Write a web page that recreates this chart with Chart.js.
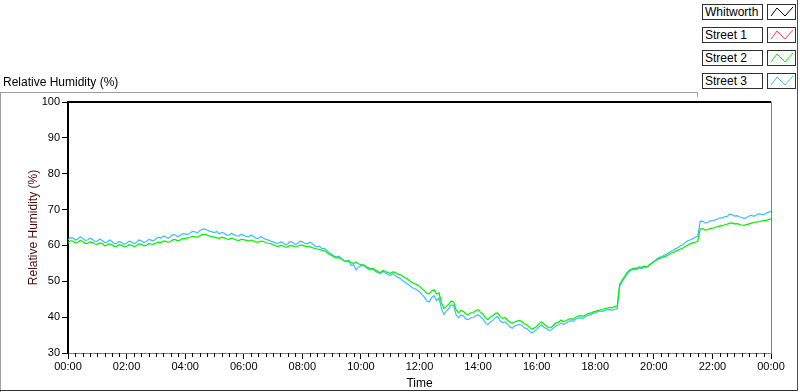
<!DOCTYPE html>
<html>
<head>
<meta charset="utf-8">
<script src="https://cdn.jsdelivr.net/npm/chart.js@4.4.1/dist/chart.umd.min.js"></script>
<style>
    body { margin: 0; background: #fff; font-family: "Liberation Sans", Arial, sans-serif; }
    #wrap { position: relative; width: 800px; height: 392px; overflow: hidden; background: #fff; }
    #wrap canvas { position: absolute; left: 0; top: 0; }
    .ln { position: absolute; }
    .graph-title { position: absolute; left: 3px; top: 75px; font-size: 12px; color: #000; }
    .leg-label { position: absolute; left: 702px; width: 61px; height: 16px; box-sizing: border-box;
                 border: 1px solid #303030; font-size: 12px; line-height: 14px; padding-left: 2px; background: #fff; }
    .leg-swatch { position: absolute; left: 767px; width: 29px; height: 16px; box-sizing: border-box;
                  border: 1px solid #303030; background: #fff; }
    .leg-swatch svg { position: absolute; left: 0; top: 0; }
</style>
</head>
<body>
<div id="wrap">
    <canvas id="mainChart" width="800" height="392"></canvas>
    <div class="graph-title">Relative Humidity (%)</div>
    <div id="legend"></div>
    <!-- panel frame -->
    <div class="ln" style="left:0;top:92px;width:697px;height:1px;background:#a0a0a0"></div>
    <div class="ln" style="left:697px;top:92px;width:1px;height:5px;background:#a0a0a0"></div>
    <div class="ln" style="left:0;top:92px;width:1px;height:300px;background:#a0a0a0"></div>
    <div class="ln" style="left:0;top:390px;width:798px;height:1px;background:#303030"></div>
    <div class="ln" style="left:797px;top:0;width:1px;height:391px;background:#505050"></div>
</div>
<script>
// time axis in minutes, one sample every 5 minutes (00:00 .. 24:00)
const STEP_MIN = 5;
const tickLabels = ['00:00', '02:00', '04:00', '06:00', '08:00', '10:00', '12:00',
                    '14:00', '16:00', '18:00', '20:00', '22:00', '00:00'];
const legendNames = ['Whitworth', 'Street 1', 'Street 2', 'Street 3'];
const legendColors = ['#000000', '#ff4040', '#00f000', '#3dbbff'];

// Street 2 (green), one row per hour
const street2 = [
    60.8, 61.3, 61.2, 60.7, 60.9, 61.4, 61.1, 60.6, 60.6, 61.0, 60.8, 60.4,
    60.3, 60.7, 60.5, 59.9, 60.1, 60.4, 60.2, 59.7, 59.8, 60.2, 60.0, 59.6,
    59.7, 60.2, 60.1, 59.7, 59.9, 60.4, 60.3, 59.9, 60.0, 60.5, 60.4, 60.3,
    60.6, 60.9, 60.8, 61.2, 61.2, 60.9, 61.1, 61.6, 61.6, 61.3, 61.5, 61.9,
    61.9, 62.1, 62.2, 62.5, 62.4, 62.3, 62.7, 63.0, 63.1, 62.9, 62.6, 62.5,
    62.3, 62.1, 62.0, 62.3, 62.1, 61.8, 61.7, 62.0, 61.8, 61.5, 61.4, 61.7,
    61.6, 61.4, 61.2, 61.5, 61.3, 60.9, 60.9, 61.2, 61.1, 60.8, 60.6, 60.5,
    60.2, 59.9, 59.7, 60.0, 59.9, 59.5, 59.6, 60.0, 59.9, 59.6, 59.7, 60.1,
    60.0, 59.8, 59.6, 59.7, 59.4, 59.2, 59.0, 58.9, 58.6, 58.5, 58.1, 57.5,
    57.2, 56.8, 56.5, 56.6, 56.2, 55.8, 55.6, 55.7, 55.2, 55.0, 55.3, 54.9,
    54.6, 54.6, 54.2, 53.8, 53.5, 53.6, 53.1, 52.7, 52.4, 53.0, 52.8, 52.4,
    52.2, 52.6, 52.5, 52.0, 51.9, 51.5, 51.0, 50.7, 50.1, 49.6, 49.3, 49.0,
    48.6, 47.9, 47.4, 46.6, 46.5, 47.3, 47.6, 46.4, 46.8, 44.0, 42.4, 43.0,
    43.6, 44.5, 44.2, 42.1, 41.2, 41.9, 41.6, 40.9, 40.7, 41.2, 41.3, 41.8,
    42.1, 41.4, 40.8, 39.8, 39.3, 40.0, 40.4, 41.0, 41.2, 40.2, 39.6, 39.9,
    39.2, 38.6, 38.3, 38.7, 38.9, 39.1, 38.7, 38.1, 37.9, 37.2, 36.6, 37.0,
    37.4, 38.2, 38.7, 38.0, 37.5, 37.0, 37.1, 37.8, 38.4, 38.6, 39.2, 38.7,
    39.0, 39.4, 39.6, 39.4, 40.0, 40.3, 40.4, 40.2, 40.6, 41.0, 41.1, 41.4,
    41.6, 41.8, 42.0, 42.2, 42.4, 42.5, 42.7, 42.6, 43.0, 43.1, 49.2, 50.3,
    51.3, 52.4, 53.1, 53.4, 53.7, 53.6, 54.0, 53.9, 54.2, 54.0, 54.5, 55.0,
    55.4, 55.9, 56.3, 56.5, 56.8, 57.0, 57.4, 57.8, 58.1, 58.4, 58.7, 59.0,
    59.3, 59.7, 60.1, 60.5, 60.7, 60.9, 61.2, 64.6, 64.7, 64.3, 64.4, 64.7,
    64.8, 65.0, 65.2, 65.4, 65.5, 65.7, 65.9, 66.2, 66.3, 66.0, 66.1, 65.9,
    65.7, 65.6, 65.8, 66.0, 66.2, 66.4, 66.5, 66.6, 66.8, 66.9, 67.0, 67.2,
    67.4
];

// Street 3 (light blue), one row per hour
const street3 = [
    61.6, 62.2, 62.1, 61.5, 61.8, 62.4, 62.0, 61.4, 61.5, 62.0, 61.7, 61.1,
    61.2, 61.8, 61.4, 60.8, 60.9, 61.5, 61.1, 60.5, 60.6, 61.1, 60.8, 60.3,
    60.6, 61.2, 61.0, 60.5, 60.8, 61.5, 61.3, 60.8, 61.0, 61.7, 61.5, 61.3,
    61.8, 62.3, 62.0, 62.6, 62.5, 62.0, 62.4, 63.0, 62.9, 62.4, 62.8, 63.3,
    63.2, 63.0, 63.5, 63.9, 63.8, 63.5, 64.1, 64.5, 64.6, 64.3, 64.0, 63.8,
    63.6, 63.9, 63.2, 63.6, 63.4, 62.9, 62.9, 63.4, 63.0, 62.7, 62.6, 63.1,
    62.8, 62.5, 62.4, 62.9, 62.5, 62.0, 61.9, 62.5, 62.1, 61.7, 61.5, 61.2,
    61.0, 60.7, 60.5, 61.0, 60.8, 60.2, 60.4, 61.1, 60.9, 60.3, 60.5, 61.2,
    61.0, 60.6, 60.4, 60.9, 60.6, 59.9, 59.6, 59.8, 59.1, 59.2, 58.6, 58.0,
    57.6, 57.0, 56.8, 57.0, 56.4, 55.7, 55.5, 55.9, 54.4, 54.6, 53.2, 54.0,
    54.3, 54.5, 53.9, 53.4, 53.2, 53.4, 52.7, 52.3, 52.2, 52.8, 52.3, 51.9,
    51.6, 52.1, 51.7, 51.1, 50.9, 50.2, 49.8, 49.3, 48.8, 48.2, 48.0, 47.6,
    47.1, 46.3, 45.6, 44.5, 44.2, 45.5, 46.0, 44.6, 45.4, 42.3, 40.8, 41.7,
    42.4, 43.4, 43.2, 40.6, 39.8, 40.6, 40.3, 39.5, 39.3, 39.8, 39.9, 40.3,
    40.7, 40.1, 39.5, 38.4, 37.9, 38.6, 39.1, 39.8, 40.2, 39.0, 38.5, 38.7,
    38.1, 37.3, 36.9, 37.5, 37.8, 38.0, 37.7, 37.0, 36.8, 36.1, 35.6, 36.0,
    36.6, 37.3, 37.8, 37.2, 36.8, 36.3, 36.4, 37.0, 37.6, 37.8, 38.4, 38.0,
    38.3, 38.8, 39.0, 38.8, 39.4, 39.7, 39.8, 39.6, 40.2, 40.5, 40.7, 41.0,
    41.2, 41.5, 41.7, 41.6, 41.9, 42.0, 42.1, 41.9, 42.2, 42.3, 48.6, 49.8,
    50.9, 52.0, 52.8, 53.2, 53.4, 53.3, 53.8, 53.5, 54.0, 53.8, 54.3, 54.9,
    55.5, 56.1, 56.6, 56.8, 57.2, 57.5, 57.9, 58.4, 58.7, 59.1, 59.4, 59.9,
    60.2, 60.9, 61.3, 61.6, 61.9, 62.3, 62.6, 66.7, 66.8, 66.2, 66.4, 66.8,
    66.9, 67.1, 67.3, 67.7, 67.6, 68.0, 68.1, 68.7, 68.6, 68.2, 68.3, 68.0,
    67.8, 67.5, 67.7, 68.2, 68.4, 68.1, 68.5, 68.8, 68.7, 68.5, 69.0, 69.3,
    69.5
];

// LabVIEW style legend (text boxes + zigzag swatch)
const legend = document.getElementById('legend');
legendNames.forEach((name, i) => {
    const top = 4 + i * 23;
    legend.innerHTML += `
        <div class="leg-label" style="top:${top}px">${name}</div>
        <div class="leg-swatch" style="top:${top}px">
            <svg width="29" height="16"><polyline points="3,11 9,3 17,11 25,2" fill="none"
                stroke="${legendColors[i]}" stroke-width="1"/></svg>
        </div>`;
});

const toPoints = arr => arr.map((v, i) => ({ x: i * STEP_MIN, y: v }));

// frame: thick top line, gray right edge, minor ticks on time axis
const framePlugin = {
    id: 'frame',
    afterDraw(chart) {
        const { ctx, chartArea: a, scales } = chart;
        ctx.save();
        ctx.strokeStyle = '#000';
        ctx.lineWidth = 2;
        ctx.beginPath();
        ctx.moveTo(a.left - 1, a.top);
        ctx.lineTo(a.right, a.top);
        ctx.stroke();

        ctx.strokeStyle = '#808080';
        ctx.lineWidth = 1;
        ctx.beginPath();
        ctx.moveTo(a.right + 0.5, a.top);
        ctx.lineTo(a.right + 0.5, a.bottom);
        ctx.stroke();

        ctx.strokeStyle = '#000';
        ctx.beginPath();
        for (let m = 15; m < 1440; m += 15) {
            if (m % 120 === 0) continue;
            const px = Math.round(scales.x.getPixelForValue(m)) + 0.5;
            ctx.moveTo(px, a.bottom);
            ctx.lineTo(px, a.bottom + 4);
        }
        ctx.stroke();
        ctx.restore();
    }
};

const tickFont = { family: '"Liberation Sans", Arial, sans-serif', size: 11 };
const titleFont = { family: '"Liberation Sans", Arial, sans-serif', size: 12 };

new Chart(document.getElementById('mainChart'), {
    type: 'line',
    data: {
        datasets: [
            { label: 'Street 2', data: toPoints(street2), borderColor: legendColors[2],
              borderWidth: 1.2, pointRadius: 0, tension: 0 },
            { label: 'Street 3', data: toPoints(street3), borderColor: legendColors[3],
              borderWidth: 1.2, pointRadius: 0, tension: 0 }
        ]
    },
    plugins: [framePlugin],
    options: {
        responsive: false,
        animation: false,
        layout: { padding: { left: 0, top: 102, right: 29, bottom: 1 } },
        plugins: { legend: { display: false }, tooltip: { enabled: false } },
        scales: {
            x: {
                type: 'linear',
                min: 0,
                max: 1440,
                afterFit: s => { s.height = 38; },
                ticks: {
                    stepSize: 120,
                    autoSkip: false,
                    maxRotation: 0,
                    padding: 1,
                    color: '#000',
                    font: tickFont,
                    callback: v => tickLabels[v / 120]
                },
                grid: { drawOnChartArea: false, tickLength: 6, color: '#000' },
                border: { color: '#808080', width: 1 },
                title: { display: true, text: 'Time', color: '#000', font: titleFont, padding: { top: 0, bottom: 0 } }
            },
            y: {
                min: 30,
                max: 100,
                afterFit: s => { s.width = 68; },
                ticks: { stepSize: 10, padding: 2, color: '#000', font: tickFont },
                grid: { drawOnChartArea: false, tickLength: 6, color: '#000' },
                border: { color: '#000', width: 2 },
                title: { display: true, text: 'Relative Humidity (%)', color: '#4a0a0a', font: titleFont,
                         padding: { top: 26, bottom: 0 } }
            }
        }
    }
});
</script>
</body>
</html>
